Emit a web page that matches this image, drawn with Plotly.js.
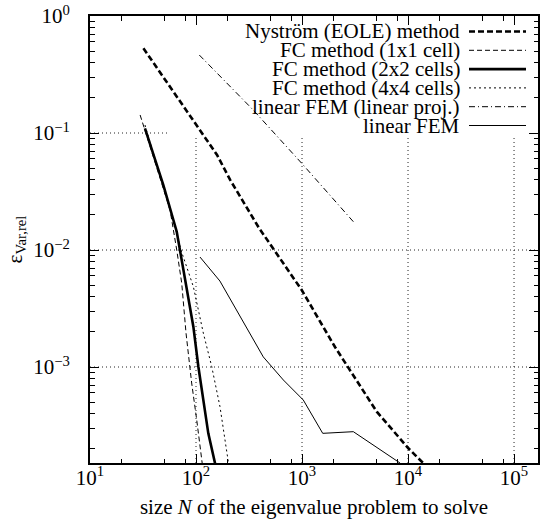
<!DOCTYPE html>
<html><head><meta charset="utf-8">
<script src="https://cdn.plot.ly/plotly-3.0.1.min.js"></script>
<style>html,body{margin:0;padding:0;background:#fff}#chart{width:545px;height:526px}</style>
</head><body><div id="chart"></div>
<script>
// ---- data ----
const seriesNames = ['Nyström (EOLE) method', 'FC method (1x1 cell)', 'FC method (2x2 cells)',
                     'FC method (4x4 cells)', 'linear FEM (linear proj.)', 'linear FEM'];

const nystromN   = [31.9, 158, 210, 393, 993, 2047, 5070, 10070, 15450];
const nystromErr = [0.530, 0.0649, 0.0397, 0.01542, 0.00455, 0.001482, 4.15e-4, 2.02e-4, 1.37e-4];

const fc1N   = [29.7, 42.6, 56.9, 65.8, 73.3, 80.5, 91.0, 101.6, 113.3, 116.5];
const fc1Err = [0.1426, 0.0515, 0.0220, 0.0100, 0.00522, 0.00195, 7.3e-4, 3.52e-4, 1.6e-4, 1.32e-4];

const fc2N   = [33.0, 42.6, 49.2, 65.8, 70.6, 81.6, 94.4, 105.2, 117.2, 130.6, 151, 154.5];
const fc2Err = [0.1097, 0.0551, 0.0359, 0.01433, 0.0100, 0.00485, 0.00221, 0.00101, 5.22e-4, 2.71e-4, 1.51e-4, 1.32e-4];

const fc4N   = [33.0, 45.7, 63.4, 72.1, 94.4, 117.2, 140.6, 168.3, 201.8, 207];
const fc4Err = [0.117, 0.0438, 0.0158, 0.0100, 0.00486, 0.00195, 0.00101, 4.58e-4, 1.51e-4, 1.32e-4];

const femProjN   = [107.4, 347, 993, 3048];
const femProjErr = [0.464, 0.157, 0.0551, 0.01746];

const femN   = [109, 168, 431, 667, 1028, 1568, 3048, 5848, 8414];
const femErr = [0.00871, 0.00543, 0.00122, 7.74e-4, 5.22e-4, 2.71e-4, 2.80e-4, 1.89e-4, 1.51e-4];

const xTickVals = [1e1, 1e2, 1e3, 1e4, 1e5];
const xTickText = ['10<sup>1</sup>', '10<sup>2</sup>', '10<sup>3</sup>', '10<sup>4</sup>', '10<sup>5</sup>'];
const xMinorVals = [20, 50, 80, 200, 500, 800, 2000, 5000, 8000, 2e4, 5e4, 8e4];
const yTickVals = [1, 1e-1, 1e-2, 1e-3];
const yTickText = ['10<sup>0</sup>', '10<sup>−1</sup>', '10<sup>−2</sup>', '10<sup>−3</sup>'];
const yMinorVals = [0.2,0.3,0.4,0.5,0.6,0.7,0.8,0.9,
                    0.02,0.03,0.04,0.05,0.06,0.07,0.08,0.09,
                    0.002,0.003,0.004,0.005,0.006,0.007,0.008,0.009,
                    2e-4,3e-4,4e-4,5e-4,6e-4,7e-4,8e-4,9e-4];
const gridX = [1e2, 1e3, 1e4, 1e5];
const gridY = [1e-1, 1e-2, 1e-3];

// ---- styles ----
const styles = [
  {width: 2.6, dash: '6px,3px'},
  {width: 1,   dash: '5px,3px'},
  {width: 2.6, dash: 'solid'},
  {width: 1,   dash: '2px,3px'},
  {width: 1,   dash: '6px,3px,1px,3px'},
  {width: 1,   dash: 'solid'}
];
const xs = [nystromN, fc1N, fc2N, fc4N, femProjN, femN];
const ys = [nystromErr, fc1Err, fc2Err, fc4Err, femProjErr, femErr];

const traces = xs.map((x, i) => ({
  type: 'scatter', mode: 'lines', x: x, y: ys[i], name: seriesNames[i],
  line: {color: '#000', width: styles[i].width, dash: styles[i].dash},
  showlegend: false
}));

// plot-area geometry in pixels
const W = 545, H = 526, L = 90, R = 7, T = 16, B = 63;
const PW = W - L - R, PH = H - T - B;
const px = v => (v - L) / PW;
const py = v => (T + PH - v) / PH;

const FONT = "'Liberation Serif', 'Times New Roman', serif";
const FS = 21;
const shapes = [];
const annotations = [];

// dotted grid, hidden behind the key area
const keyLeft = 167, keyBottom = 137;
gridY.forEach((g, i) => {
  shapes.push({type: 'line', layer: 'below', xref: 'paper', yref: 'y',
    x0: 0, x1: i === 0 ? px(keyLeft) : 1, y0: g, y1: g,
    line: {color: '#222', width: 1, dash: '1px,3px'}});
});
gridX.forEach(g => {
  shapes.push({type: 'line', layer: 'below', xref: 'x', yref: 'paper',
    x0: g, x1: g, y0: 0, y1: py(keyBottom),
    line: {color: '#222', width: 1, dash: '1px,3px'}});
});

// key
seriesNames.forEach((n, i) => {
  const yy = 31.5 + i * 18.8;
  annotations.push({xref: 'paper', yref: 'paper', x: px(462), y: py(yy),
    xanchor: 'right', yanchor: 'middle', showarrow: false, text: n,
    font: {family: FONT, size: FS, color: '#000'}});
  shapes.push({type: 'line', layer: 'above', xref: 'paper', yref: 'paper',
    x0: px(469), x1: px(526), y0: py(yy), y1: py(yy),
    line: {color: '#000', width: styles[i].width, dash: styles[i].dash}});
});

const axisCommon = {
  type: 'log', showgrid: false, zeroline: false,
  showline: true, linecolor: '#000', linewidth: 2, mirror: 'ticks',
  ticks: 'inside', ticklen: 9, tickwidth: 1, tickcolor: '#000',
  tickmode: 'array', tickfont: {family: FONT, size: FS, color: '#000'}
};

const layout = {
  width: W, height: H,
  margin: {l: L, r: R, t: T, b: B},
  paper_bgcolor: '#fff', plot_bgcolor: '#fff',
  showlegend: false,
  xaxis: Object.assign({}, axisCommon, {
    range: [1, 5.226], tickvals: xTickVals, ticktext: xTickText,
    ticklabelstandoff: -5,
    minor: {tickmode: 'array', tickvals: xMinorVals, ticks: 'inside', ticklen: 4.5, tickwidth: 1, tickcolor: '#000'},
    title: {text: 'size <i>N</i> of the eigenvalue problem to solve', font: {family: FONT, size: FS, color: '#000'}, standoff: 10}
  }),
  yaxis: Object.assign({}, axisCommon, {
    range: [-3.8205, 0], tickvals: yTickVals, ticktext: yTickText,
    ticklabelstandoff: 14,
    minor: {tickmode: 'array', tickvals: yMinorVals, ticks: 'inside', ticklen: 4.5, tickwidth: 1, tickcolor: '#000'},
    title: {text: 'ε<sub>Var,rel</sub>', font: {family: FONT, size: FS, color: '#000'}, standoff: 5}
  }),
  shapes: shapes,
  annotations: annotations
};

Plotly.newPlot('chart', traces, layout, {staticPlot: true, displayModeBar: false});
</script>
</body></html>
